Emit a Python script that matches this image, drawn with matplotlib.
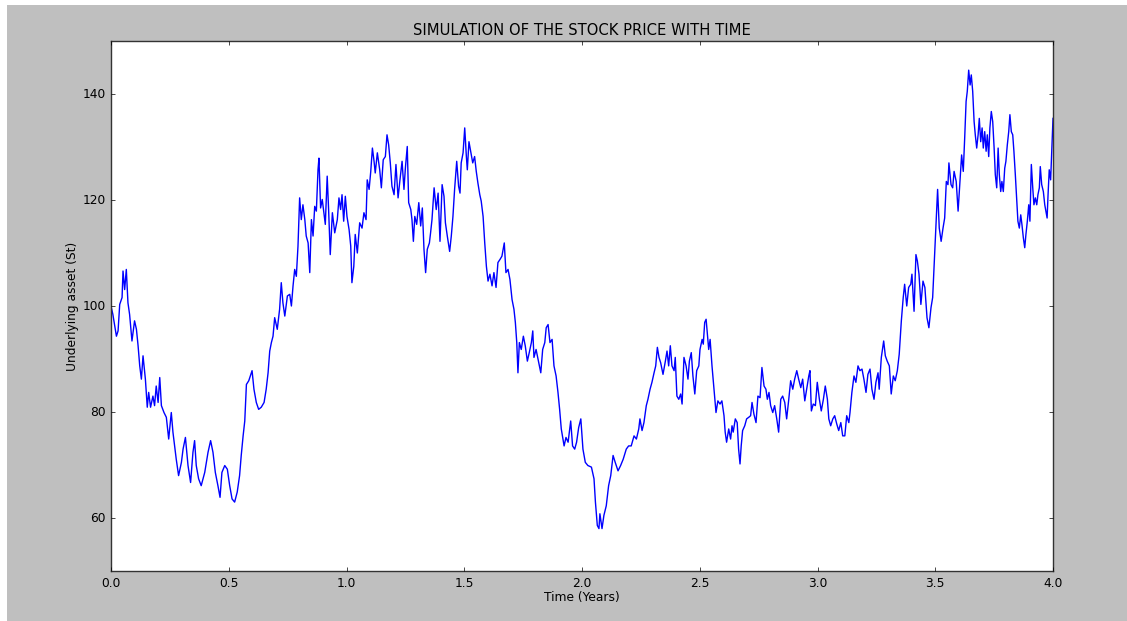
import matplotlib
matplotlib.use("Agg")
import matplotlib.pyplot as plt
from matplotlib.patches import Rectangle

# Time (years) and price values
times = [
    0.000, 0.008, 0.023, 0.030, 0.037, 0.047, 0.051, 0.058, 0.065, 0.072, 0.079, 0.089, 0.100, 0.108,
    0.115, 0.122, 0.129, 0.136, 0.146, 0.154, 0.160, 0.168, 0.178, 0.185, 0.192, 0.200, 0.207, 0.214,
    0.225, 0.235, 0.245, 0.256, 0.263, 0.277, 0.287, 0.299, 0.306, 0.316, 0.327, 0.338, 0.348, 0.355,
    0.362, 0.372, 0.383, 0.398, 0.412, 0.423, 0.433, 0.443, 0.454, 0.463, 0.471, 0.483, 0.494, 0.504,
    0.514, 0.525, 0.536, 0.546, 0.553, 0.561, 0.568, 0.575, 0.585, 0.599, 0.607, 0.617, 0.627, 0.638,
    0.650, 0.659, 0.667, 0.674, 0.681,
    0.688, 0.695, 0.706, 0.716, 0.723, 0.730, 0.738, 0.749, 0.759, 0.766, 0.773, 0.780, 0.787, 0.794,
    0.801, 0.808, 0.815, 0.823, 0.829, 0.837, 0.844, 0.851, 0.858, 0.865, 0.872, 0.879, 0.883, 0.890,
    0.897, 0.904, 0.910, 0.918, 0.924, 0.931, 0.940, 0.950, 0.961, 0.968, 0.975, 0.981, 0.988, 0.995,
    1.002, 1.011, 1.018, 1.023, 1.031, 1.037, 1.046, 1.056, 1.066, 1.074, 1.083, 1.088, 1.096, 1.103,
    1.110, 1.117, 1.122, 1.131, 1.141, 1.148, 1.156, 1.165, 1.172, 1.179, 1.186, 1.193, 1.202, 1.210,
    1.219, 1.227, 1.236, 1.244, 1.250, 1.258, 1.264, 1.273, 1.278, 1.284, 1.290, 1.298, 1.307, 1.315,
    1.322, 1.329, 1.336, 1.343, 1.352,
    1.357, 1.363, 1.372, 1.381, 1.389, 1.397, 1.406, 1.414, 1.420, 1.428, 1.438, 1.445, 1.452, 1.459,
    1.468, 1.476, 1.482, 1.487, 1.495, 1.502, 1.509, 1.513, 1.520, 1.527, 1.536, 1.544, 1.551, 1.558,
    1.566, 1.572, 1.580, 1.587, 1.594, 1.601, 1.609, 1.618, 1.626, 1.635, 1.643, 1.652, 1.660, 1.670,
    1.677, 1.686, 1.694, 1.703, 1.711, 1.717, 1.723, 1.728, 1.734, 1.742, 1.751, 1.759, 1.768, 1.776,
    1.785, 1.791, 1.796, 1.805, 1.813, 1.825, 1.833, 1.842, 1.848, 1.856, 1.864, 1.873, 1.881, 1.890,
    1.898, 1.905, 1.912, 1.924, 1.932, 1.941, 1.952, 1.960, 1.969, 1.977, 1.986, 1.995, 2.004, 2.014,
    2.025,
    2.040, 2.051, 2.057, 2.065, 2.072, 2.076, 2.085, 2.093, 2.103, 2.113, 2.122, 2.132, 2.141, 2.153,
    2.164, 2.175, 2.188, 2.198, 2.209, 2.221, 2.231, 2.241, 2.246, 2.255, 2.263, 2.273, 2.280, 2.289,
    2.297, 2.306, 2.313, 2.320, 2.327, 2.334, 2.344, 2.354, 2.361, 2.368, 2.375, 2.382, 2.391, 2.396,
    2.403, 2.411, 2.419, 2.425, 2.433, 2.442, 2.450, 2.456, 2.464, 2.471, 2.479, 2.487, 2.496, 2.501,
    2.510, 2.515, 2.521, 2.527, 2.532, 2.538, 2.544, 2.552, 2.558, 2.564, 2.569, 2.577, 2.586, 2.594,
    2.603, 2.608, 2.614, 2.623, 2.631, 2.637, 2.642, 2.651, 2.659, 2.665, 2.671, 2.676, 2.682, 2.691,
    2.699, 2.708,
    2.716, 2.722, 2.730, 2.739, 2.747, 2.756, 2.764, 2.773, 2.781, 2.787, 2.794, 2.801, 2.810, 2.818,
    2.827, 2.835, 2.844, 2.852, 2.861, 2.869, 2.878, 2.886, 2.895, 2.903, 2.912, 2.920, 2.929, 2.937,
    2.946, 2.954, 2.963, 2.968, 2.974, 2.982, 2.991, 2.999, 3.008, 3.016, 3.025, 3.033, 3.042, 3.048,
    3.056, 3.065, 3.073, 3.082, 3.090, 3.099, 3.107, 3.116, 3.124, 3.133, 3.138, 3.146, 3.155, 3.163,
    3.172, 3.180, 3.189, 3.197, 3.206, 3.214, 3.223, 3.231, 3.240, 3.248, 3.257, 3.262, 3.271, 3.281,
    3.288, 3.296, 3.305, 3.313, 3.322, 3.330, 3.339, 3.347, 3.356,
    3.364, 3.370, 3.379, 3.387, 3.396, 3.401, 3.410, 3.418, 3.424, 3.431, 3.439, 3.448, 3.456, 3.465,
    3.473, 3.482, 3.489, 3.496, 3.502, 3.510, 3.517, 3.525, 3.533, 3.540, 3.547, 3.554, 3.558, 3.567,
    3.574, 3.580, 3.589, 3.597, 3.605, 3.612, 3.619, 3.625, 3.631, 3.636, 3.642, 3.648, 3.653, 3.659,
    3.665, 3.670, 3.676, 3.682, 3.687, 3.693, 3.699, 3.704, 3.710, 3.716, 3.721, 3.727, 3.732, 3.738,
    3.744, 3.750, 3.755, 3.761, 3.767, 3.772, 3.778, 3.783, 3.789, 3.795, 3.800, 3.806, 3.812, 3.817,
    3.823, 3.829, 3.834, 3.840, 3.846, 3.851, 3.857, 3.863, 3.868, 3.874, 3.880, 3.885, 3.891, 3.897,
    3.902, 3.908, 3.914, 3.919, 3.925, 3.931, 3.936, 3.942, 3.946, 3.952, 3.959, 3.965, 3.970, 3.975,
    3.979, 3.984, 3.990, 3.996, 4.000,
]

prices = [
    100.0, 98.4, 94.3, 95.3, 100.3, 101.6, 106.6, 103.1, 106.9, 100.6, 98.4, 93.4, 97.2, 95.6,
    92.5, 88.7, 86.2, 90.6, 86.2, 80.9, 83.7, 80.9, 83.0, 81.2, 84.9, 81.8, 86.5, 81.2,
    79.9, 79.0, 74.9, 79.9, 76.2, 71.1, 68.0, 70.5, 73.0, 75.2, 69.9, 66.7, 72.4, 74.6,
    69.9, 67.4, 66.1, 68.6, 72.4, 74.6, 72.4, 68.6, 66.1, 63.9, 68.6, 69.9, 69.2, 66.1,
    63.6, 63.0, 64.9, 68.0, 71.8, 75.5, 78.3, 85.2, 85.9, 87.8, 84.3, 81.8, 80.5, 80.9,
    81.8, 84.3, 87.4, 91.5, 93.1,
    94.3, 97.8, 95.6, 99.4, 104.4, 100.6, 98.1, 101.9, 102.2, 100.0, 103.8, 106.9, 105.6, 111.3,
    120.4, 116.3, 119.1, 116.3, 113.2, 111.9, 106.3, 116.3, 113.2, 118.8, 117.9, 125.7, 127.9, 118.5,
    120.1, 117.6, 115.4, 124.5, 118.2, 109.7, 117.6, 113.8, 116.3, 120.4, 118.2, 121.0, 116.0, 120.7,
    116.9, 114.4, 111.3, 104.4, 107.5, 113.5, 110.0, 115.7, 114.7, 117.6, 116.3, 123.8, 122.0, 125.4,
    129.8, 127.3, 125.1, 128.9, 125.7, 122.3, 127.6, 128.2, 132.3, 130.4, 127.0, 122.6, 121.0, 126.7,
    120.4, 123.8, 127.3, 122.0, 126.0, 130.1, 119.5, 118.2, 116.3, 112.2, 116.9, 115.4, 119.5, 115.1,
    118.5, 110.7, 106.3, 110.7, 111.9,
    113.8, 116.3, 122.3, 118.2, 121.3, 112.2, 122.9, 120.7, 115.7, 113.2, 110.3, 113.2, 116.9, 122.0,
    127.3, 122.6, 121.3, 127.0, 128.9, 133.6, 128.2, 125.7, 131.0, 129.2, 127.0, 128.2, 125.4, 123.2,
    121.0, 119.8, 116.9, 111.9, 107.5, 104.7, 106.0, 103.8, 106.3, 103.5, 108.2, 108.8, 109.4, 111.9,
    106.3, 106.9, 105.0, 101.2, 99.4, 96.9, 93.1, 87.4, 93.1, 91.8, 94.3, 92.5, 89.6, 91.2,
    93.1, 95.3, 90.3, 91.8, 90.0, 87.4, 91.8, 93.1, 95.9, 96.5, 93.1, 93.7, 88.7, 86.8,
    83.7, 80.5, 76.8, 73.6, 75.2, 74.3, 78.3, 73.6, 73.0, 74.3, 77.1, 78.7, 73.0, 70.5,
    69.9,
    69.6, 67.4, 63.0, 58.6, 58.0, 60.8, 58.0, 60.5, 62.3, 66.1, 68.0, 71.8, 70.5, 68.9,
    69.9, 71.1, 73.0, 73.6, 73.6, 75.5, 74.9, 76.8, 78.7, 76.5, 78.0, 81.2, 82.4, 84.3,
    85.6, 87.4, 88.7, 92.2, 90.3, 89.3, 87.1, 89.6, 91.5, 88.7, 92.5, 88.7, 87.8, 90.3,
    83.0, 82.4, 83.4, 81.5, 90.3, 88.7, 86.2, 89.6, 91.2, 86.8, 83.4, 87.8, 88.7, 91.8,
    93.7, 92.8, 96.9, 97.5, 95.0, 91.8, 93.7, 88.7, 85.6, 82.4, 79.9, 82.1, 81.5, 82.1,
    79.3, 76.2, 74.3, 76.8, 74.9, 77.4, 76.2, 78.7, 78.0, 73.0, 70.2, 73.6, 76.5, 77.4,
    78.7, 79.0,
    79.3, 81.8, 79.6, 78.0, 83.0, 82.7, 88.4, 84.9, 84.3, 82.4, 83.7, 81.2, 79.9, 81.2,
    78.7, 76.2, 82.4, 83.0, 81.8, 78.7, 82.4, 85.9, 84.3, 86.2, 87.8, 86.2, 84.6, 86.2,
    82.1, 84.3, 86.8, 87.8, 80.2, 81.5, 81.2, 85.6, 82.4, 80.2, 82.4, 84.9, 82.4, 78.7,
    77.4, 78.7, 79.3, 77.7, 76.5, 78.0, 75.5, 75.5, 79.3, 78.0, 79.9, 83.7, 86.8, 85.6,
    88.7, 87.8, 88.1, 86.2, 83.7, 87.1, 88.1, 84.3, 82.4, 85.6, 87.4, 84.3, 90.3, 93.4,
    90.6, 89.6, 88.7, 83.4, 86.8, 85.9, 87.8, 90.9, 97.2,
    101.6, 104.1, 100.0, 103.5, 104.1, 106.0, 99.0, 109.7, 108.5, 106.0, 100.3, 104.7, 103.5, 97.8,
    95.9, 99.7, 101.6, 108.5, 114.7, 122.0, 114.7, 112.2, 114.7, 116.6, 123.5, 122.9, 127.0, 122.9,
    122.3, 125.4, 123.5, 117.9, 123.5, 128.5, 125.4, 131.7, 138.6, 140.5, 144.5, 141.7, 143.6, 140.5,
    134.8, 132.3, 129.8, 132.3, 135.4, 131.0, 133.6, 129.8, 132.9, 129.2, 132.3, 128.2, 133.6, 136.7,
    134.8, 129.8, 124.8, 122.3, 129.8, 124.8, 121.6, 123.5, 121.6, 126.0, 127.3, 130.4, 132.9, 136.1,
    132.9, 132.3, 129.2, 124.8, 119.8, 116.0, 114.7, 117.2, 115.4, 112.9, 111.0, 113.5, 116.0, 119.1,
    116.0, 126.7, 122.3, 119.1, 120.4, 119.1, 121.0, 122.3, 126.3, 122.9, 121.6, 119.1, 117.9, 116.6,
    121.0, 125.7, 123.8, 131.0, 135.4,
]

x_ticks = [0.0, 0.5, 1.0, 1.5, 2.0, 2.5, 3.0, 3.5, 4.0]
y_ticks = [60, 80, 100, 120, 140]

plt.style.use("classic")
plt.rcParams["font.family"] = ["DejaVu Sans"]

fig = plt.figure(figsize=(11.27, 6.21), dpi=100, facecolor="#bfbfbf")
# white strips at top and left (screenshot margin)
fig.patches.append(Rectangle((0, 0), 7 / 1127, 1, transform=fig.transFigure,
                             facecolor="white", edgecolor="none", zorder=-1))
fig.patches.append(Rectangle((0, 1 - 5 / 621), 1, 5 / 621, transform=fig.transFigure,
                             facecolor="white", edgecolor="none", zorder=-1))

ax = fig.add_axes([111 / 1127, 1 - 571 / 621, (1053 - 111) / 1127, (571 - 41) / 621])
ax.set_facecolor("white")
ax.plot(times, prices, color="#0000ff", linewidth=1.0)

ax.set_xlim(0, 4)
ax.set_ylim(50, 150)
ax.set_xticks(x_ticks)
ax.set_xticklabels([f"{t:.1f}" for t in x_ticks])
ax.set_yticks(y_ticks)
ax.set_yticklabels([str(v) for v in y_ticks])
ax.tick_params(direction="in", top=True, right=True, labelsize=8.8, length=3, pad=4)
for spine in ax.spines.values():
    spine.set_color("#333333")

ax.set_title("SIMULATION OF THE STOCK PRICE WITH TIME", fontsize=10.6, pad=4.5)
ax.set_xlabel("Time (Years)", fontsize=8.8, labelpad=1)
ax.set_ylabel("Underlying asset (St)", fontsize=8.8, labelpad=2)

fig.savefig("out.png", dpi=100, facecolor=fig.get_facecolor())
